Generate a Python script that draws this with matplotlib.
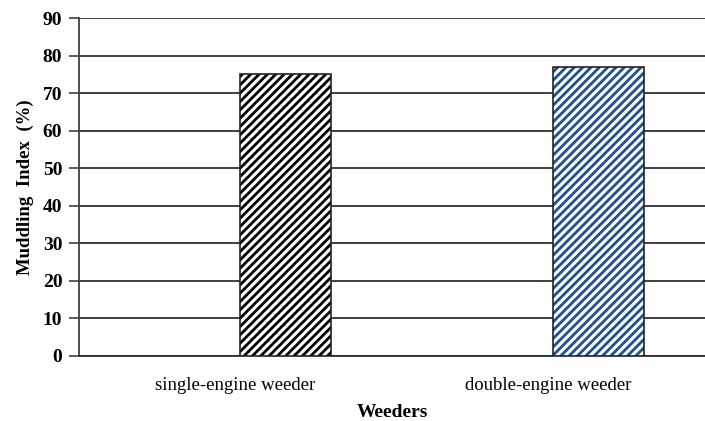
import matplotlib

matplotlib.use("Agg")
import matplotlib.pyplot as plt
import numpy as np

categories = ["single-engine weeder", "double-engine weeder"]
values = [75, 77]
hatch_colors = ["#000000", "#1f4e91"]
y_ticks = [0, 10, 20, 30, 40, 50, 60, 70, 80, 90]

plt.rcParams["font.family"] = ["Liberation Serif", "DejaVu Serif"]
plt.rcParams["hatch.linewidth"] = 2.0

fig = plt.figure(figsize=(7.05, 4.21), dpi=100)
ax = fig.add_axes([0.112, 0.1544, 0.888, 0.8028])

x = np.arange(len(categories))
offset = 0.16
width = 0.29
for xi, v, c in zip(x, values, hatch_colors):
    # hatch layer, then outline on top
    ax.bar(xi + offset, v, width, color="white", edgecolor=c, hatch="////",
           linewidth=0, zorder=3)
    ax.bar(xi + offset, v, width, fill=False, edgecolor="#222222",
           linewidth=1.2, zorder=4)

ax.set_xlim(-0.5, 1.5)
ax.set_ylim(0, 90)
ax.set_yticks(y_ticks)
ax.set_xticks(x)
ax.set_xticklabels(categories, fontsize=13.5)
ax.tick_params(axis="x", length=0, pad=15)
ax.tick_params(axis="y", length=7, width=1.2, color="#404040", pad=5)
for lab in ax.get_yticklabels():
    lab.set_fontweight("bold")
    lab.set_fontsize(14)

ax.grid(axis="y", color="#303030", linewidth=1.3, zorder=0)
ax.set_axisbelow(True)
for s in ["top", "right"]:
    ax.spines[s].set_visible(False)
ax.spines["left"].set_color("#404040")
ax.spines["left"].set_linewidth(1.3)
ax.spines["bottom"].set_color("#303030")
ax.spines["bottom"].set_linewidth(1.3)

ax.set_xlabel("Weeders", fontsize=14, fontweight="bold", labelpad=7)
ax.set_ylabel("Muddling  Index  (%)", fontsize=13.5, fontweight="bold", labelpad=6)

fig.savefig("out.png", dpi=100)
